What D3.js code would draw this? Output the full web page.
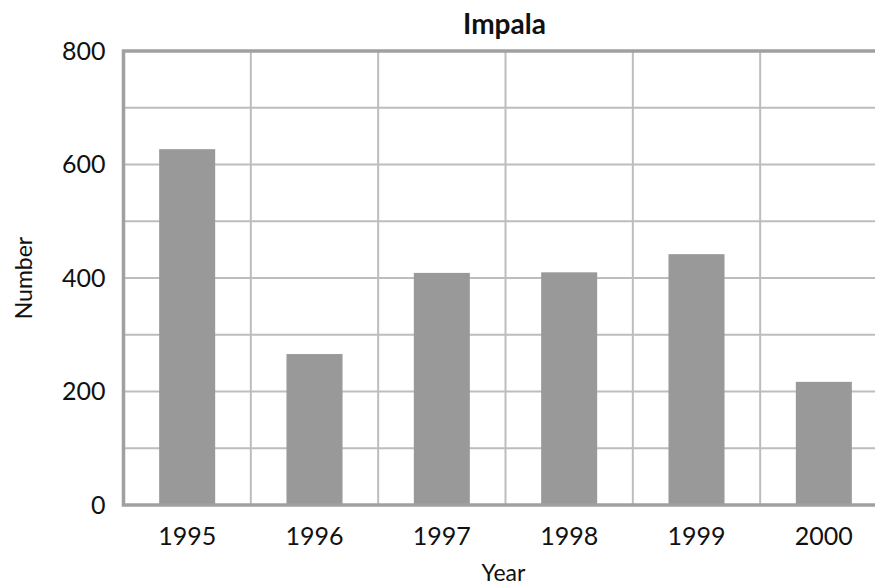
<!DOCTYPE html>
<html><head><meta charset="utf-8">
<script src="https://cdn.jsdelivr.net/npm/d3@7"></script>
<style>
body{margin:0;background:#fff;overflow:hidden}
text{font-family:Lato,"Noto Sans",sans-serif;fill:#111}
</style></head>
<body><svg id="chart" width="875" height="588"></svg>
<script>
const categories = ["1995","1996","1997","1998","1999","2000"];
const values = [627, 266, 409, 410, 442, 217];
const yTicks = [0, 200, 400, 600, 800];
const yGrid = [100, 200, 300, 400, 500, 600, 700];
const title = "Impala";
const xTitle = "Year";
const yTitle = "Number";

const svg = d3.select("#chart");
const L = 123.5, R = 887.5, T = 51, B = 505;
const x = d3.scaleBand().domain(categories).range([L, R]).paddingInner(0.56).paddingOuter(0.28);
const y = d3.scaleLinear().domain([0, 800]).range([B, T]);

// horizontal grid
svg.append("g").selectAll("line").data(yGrid).join("line")
  .attr("x1", L).attr("x2", R).attr("y1", d => y(d)).attr("y2", d => y(d))
  .attr("stroke", "#bdbdbd").attr("stroke-width", 2);
// vertical grid at category boundaries
const step = x.step();
svg.append("g").selectAll("line").data(categories.slice(1)).join("line")
  .attr("x1", d => x(d) - step * 0.28 ).attr("x2", d => x(d) - step * 0.28)
  .attr("y1", T).attr("y2", B)
  .attr("stroke", "#bdbdbd").attr("stroke-width", 2);

// bars
svg.append("g").selectAll("rect").data(values).join("rect")
  .attr("x", (d, i) => x(categories[i]))
  .attr("width", x.bandwidth())
  .attr("y", d => y(d))
  .attr("height", d => y(0) - y(d))
  .attr("fill", "#999999");

// frame
svg.append("rect").attr("x", L).attr("y", T).attr("width", R - L).attr("height", B - T)
  .attr("fill", "none").attr("stroke", "#a0a0a0").attr("stroke-width", 3.5);

// y axis labels
const yAxis = d3.axisLeft(y).tickValues(yTicks).tickSize(0).tickPadding(18);
const gy = svg.append("g").attr("transform", `translate(${L},0)`).call(yAxis);
gy.select(".domain").remove();
gy.selectAll("text").style("font-size", "25px").style("font-family", "Lato").attr("fill", "#111");

// x axis labels
const xAxis = d3.axisBottom(x).tickSize(0).tickPadding(22);
const gx = svg.append("g").attr("transform", `translate(0,${B})`).call(xAxis);
gx.select(".domain").remove();
gx.selectAll("text").style("font-size", "25px").style("font-family", "Lato").attr("fill", "#111");

// titles
svg.append("text").attr("x", (L + R) / 2 - 1).attr("y", 34).attr("text-anchor", "middle")
  .style("font-size", "28px").style("font-weight", "bold").text(title);
svg.append("text").attr("x", (L + R) / 2 - 2).attr("y", 581).attr("text-anchor", "middle")
  .style("font-size", "23px").text(xTitle);
svg.append("text").attr("transform", `translate(32,${(T + B) / 2}) rotate(-90)`).attr("text-anchor", "middle")
  .style("font-size", "23px").text(yTitle);
</script></body></html>
